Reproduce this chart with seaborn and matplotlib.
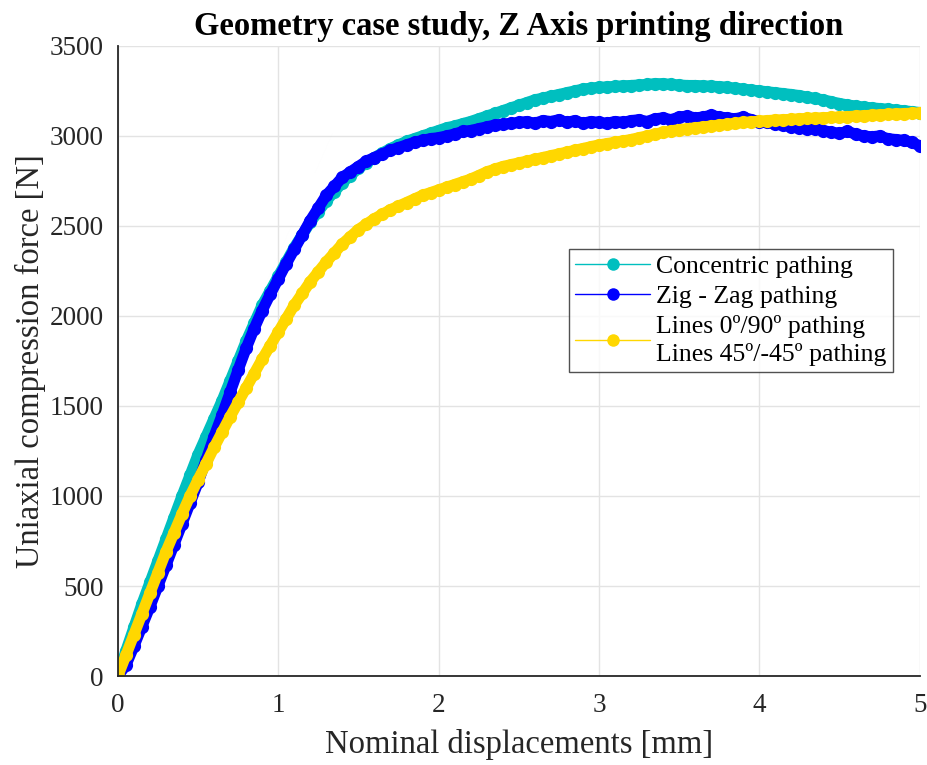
import matplotlib
matplotlib.use("Agg")
import matplotlib.pyplot as plt
from matplotlib.lines import Line2D
import seaborn as sns
import pandas as pd

# ---- data ----
disp = [0.00, 0.05, 0.10, 0.15, 0.20, 0.25, 0.30, 0.35, 0.40, 0.45,
        0.50, 0.55, 0.60, 0.65, 0.70, 0.75, 0.80, 0.85, 0.90, 0.95,
        1.00, 1.05, 1.10, 1.15, 1.20, 1.25, 1.30, 1.35, 1.40, 1.45,
        1.50, 1.55, 1.60, 1.65, 1.70, 1.75, 1.80, 1.85, 1.90, 1.95,
        2.00, 2.05, 2.10, 2.15, 2.20, 2.25, 2.30, 2.35, 2.40, 2.45,
        2.50, 2.55, 2.60, 2.65, 2.70, 2.75, 2.80, 2.85, 2.90, 2.95,
        3.00, 3.05, 3.10, 3.15, 3.20, 3.25, 3.30, 3.35, 3.40, 3.45,
        3.50, 3.55, 3.60, 3.65, 3.70, 3.75, 3.80, 3.85, 3.90, 3.95,
        4.00, 4.05, 4.10, 4.15, 4.20, 4.25, 4.30, 4.35, 4.40, 4.45,
        4.50, 4.55, 4.60, 4.65, 4.70, 4.75, 4.80, 4.85, 4.90, 4.95,
        5.00]

concentric = [0, 140, 270, 400, 520, 640, 760, 880, 1000, 1115,
              1230, 1330, 1430, 1530, 1640, 1750, 1860, 1960, 2060, 2140,
              2220, 2300, 2380, 2450, 2520, 2580, 2640, 2690, 2740, 2780,
              2820, 2850, 2880, 2905, 2930, 2950, 2970, 2985, 3000, 3015,
              3030, 3045, 3055, 3068, 3080, 3095, 3110, 3125, 3140, 3155,
              3170, 3185, 3200, 3210, 3220, 3230, 3240, 3250, 3260, 3265,
              3270, 3272, 3275, 3278, 3280, 3283, 3286, 3290, 3290, 3286,
              3283, 3280, 3280, 3278, 3276, 3274, 3270, 3265, 3260, 3255,
              3250, 3245, 3240, 3235, 3230, 3224, 3215, 3208, 3200, 3190,
              3180, 3172, 3166, 3160, 3156, 3152, 3148, 3144, 3140, 3135,
              3130]

zigzag = [0, 60, 165, 275, 385, 500, 615, 730, 845, 960,
          1075, 1200, 1330, 1450, 1575, 1700, 1820, 1930, 2030, 2120,
          2205, 2290, 2370, 2450, 2530, 2600, 2670, 2720, 2770, 2800,
          2830, 2860, 2880, 2900, 2920, 2935, 2950, 2965, 2975, 2985,
          2990, 3000, 3010, 3025, 3030, 3040, 3050, 3060, 3065, 3070,
          3075, 3080, 3070, 3085, 3080, 3090, 3075, 3085, 3070, 3080,
          3075, 3070, 3080, 3075, 3085, 3090, 3080, 3095, 3100, 3090,
          3105, 3110, 3100, 3105, 3115, 3105, 3100, 3095, 3105, 3090,
          3080, 3075, 3065, 3060, 3050, 3045, 3040, 3040, 3030, 3020,
          3015, 3025, 3010, 3000, 2995, 3000, 2985, 2980, 2975, 2965,
          2945]

lines = [0, 115, 230, 345, 460, 575, 690, 795, 900, 1000,
         1090, 1180, 1270, 1355, 1440, 1520, 1600, 1680, 1760, 1835,
         1910, 1985, 2060, 2125, 2190, 2245, 2300, 2350, 2400, 2440,
         2480, 2510, 2540, 2565, 2590, 2610, 2630, 2650, 2670, 2685,
         2700, 2715, 2730, 2745, 2760, 2780, 2800, 2815, 2830, 2840,
         2850, 2860, 2870, 2880, 2890, 2900, 2910, 2920, 2930, 2940,
         2950, 2957, 2965, 2972, 2980, 2990, 3000, 3010, 3020, 3028,
         3035, 3040, 3045, 3050, 3055, 3060, 3065, 3070, 3075, 3078,
         3082, 3085, 3088, 3090, 3092, 3095, 3097, 3099, 3101, 3103,
         3105, 3107, 3110, 3112, 3115, 3117, 3120, 3122, 3124, 3126,
         3128]

series_labels = ["Concentric pathing",
                 "Zig - Zag pathing",
                 "Lines 0º/90º pathing\nLines 45º/-45º pathing"]
series_colors = ["#00BFBF", "#0000FF", "#FFD700"]

df = pd.DataFrame({"disp": disp * 3,
                   "force": concentric + zigzag + lines,
                   "series": [series_labels[0]] * len(disp)
                             + [series_labels[1]] * len(disp)
                             + [series_labels[2]] * len(disp)})

sns.set_theme(style="whitegrid")
plt.rcParams['font.family'] = ['Liberation Serif', 'DejaVu Serif']

fig = plt.figure(figsize=(9.28, 7.65), dpi=100)
ax = fig.add_axes([0.127, 0.1163, 0.864, 0.8237])

# dense measured points look like a solid band with round markers on it
for lab, col in zip(series_labels, series_colors):
    sub = df[df["series"] == lab]
    sns.lineplot(data=sub, x="disp", y="force", ax=ax, color=col,
                 marker="o", markersize=9.5, markeredgewidth=0,
                 linewidth=8, solid_capstyle="round", solid_joinstyle="round",
                 sort=False, estimator=None, legend=False)

ax.set_xlim(0, 5)
ax.set_ylim(0, 3500)
ax.set_xticks([0, 1, 2, 3, 4, 5])
ax.set_yticks(range(0, 3501, 500))
ax.grid(True, color="#e3e3e3", linewidth=1)
ax.set_facecolor("white")
for s in ["top", "right"]:
    ax.spines[s].set_visible(False)
for s in ["left", "bottom"]:
    ax.spines[s].set_color("#262626")
    ax.spines[s].set_linewidth(1.3)
ax.tick_params(direction="in", length=8, width=1.3, color="#262626",
               labelsize=19.5, labelcolor="#262626")
ax.tick_params(axis="x", pad=12)
ax.tick_params(axis="y", pad=10)

ax.set_xlabel("Nominal displacements [mm]", fontsize=23.5, color="#262626", labelpad=8)
ax.set_ylabel("Uniaxial compression force [N]", fontsize=23.5, color="#262626", labelpad=3)
ax.set_title("Geometry case study, Z Axis printing direction",
             fontsize=23.5, fontweight="bold", color="black", pad=8)

handles = [Line2D([0], [0], color=c, linewidth=1, marker="o",
                  markersize=9, markeredgewidth=0) for c in series_colors]
leg = ax.legend(handles, series_labels, loc="upper left",
                bbox_to_anchor=(0.5625, 0.678),
                fontsize=18.5, frameon=True, fancybox=False,
                handlelength=2.9, borderpad=0.25, labelspacing=0.26,
                handletextpad=0.25, borderaxespad=0)
leg.get_frame().set_edgecolor("#262626")
leg.get_frame().set_linewidth(1)
for t in leg.get_texts():
    t.set_color("black")
    t.set_linespacing(1.3)

fig.savefig("out.png", dpi=100, facecolor="white")
